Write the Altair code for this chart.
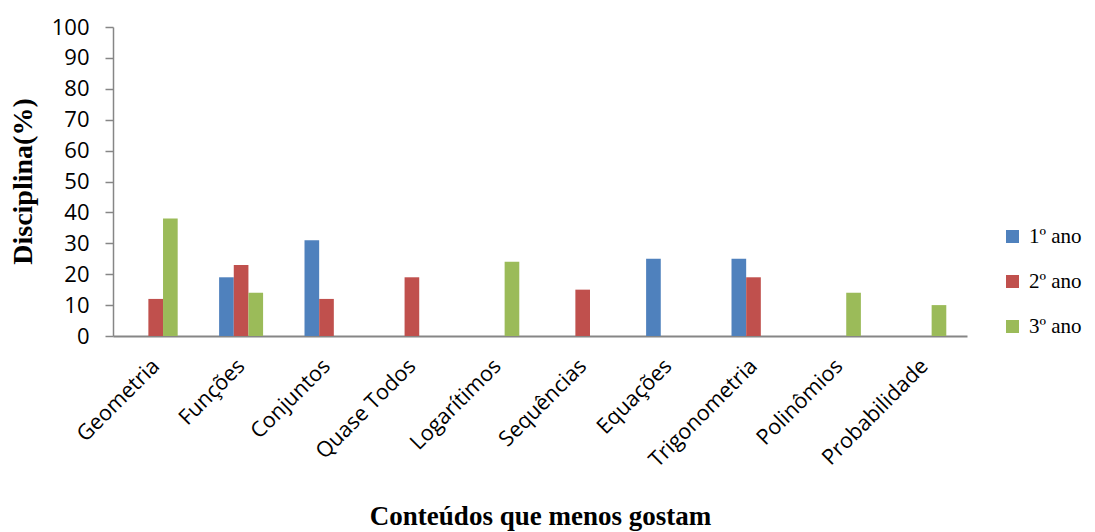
import altair as alt
import pandas as pd

categories = ["Geometria", "Funções", "Conjuntos", "Quase Todos", "Logarítimos",
              "Sequências", "Equações", "Trigonometria", "Polinômios", "Probabilidade"]
series = ["1º ano", "2º ano", "3º ano"]
ano1 = [0, 19, 31, 0, 0, 0, 25, 25, 0, 0]
ano2 = [12, 23, 12, 19, 0, 15, 0, 19, 0, 0]
ano3 = [38, 14, 0, 0, 24, 0, 0, 0, 14, 10]
colors = ["#4F81BD", "#C0504D", "#9BBB59"]

rows = []
for i, c in enumerate(categories):
    for s, vals in zip(series, [ano1, ano2, ano3]):
        rows.append({"cat": c, "serie": s, "valor": vals[i]})
df = pd.DataFrame(rows)

chart = alt.Chart(df).mark_bar().encode(
    x=alt.X("cat:N", sort=categories,
            scale=alt.Scale(paddingInner=0.485, paddingOuter=0.2425),
            axis=alt.Axis(title="Conteúdos que menos gostam", labelAngle=-45,
                          labelAlign="right", labelBaseline="top",
                          labelFont="Open Sans", labelFontSize=21.5, labelColor="black",
                          labelPadding=19, labelOffset=-7, ticks=False,
                          domainColor="#868686", domainWidth=2,
                          titleFont="Liberation Serif", titleFontSize=27, titleFontWeight="bold",
                          titleColor="black", titleX=427, titleY=180, titleBaseline="middle")),
    xOffset=alt.XOffset("serie:N", sort=series),
    y=alt.Y("valor:Q", scale=alt.Scale(domain=[0, 100]),
            axis=alt.Axis(title="Disciplina(%)", values=list(range(0, 101, 10)),
                          grid=False, tickColor="#868686", tickSize=8, domainColor="#868686",
                          domainWidth=1.5, tickWidth=1.5,
                          labelFont="Open Sans", labelFontSize=22, labelColor="black",
                          labelPadding=16,
                          titleFont="Liberation Serif", titleFontSize=28, titleFontWeight="bold",
                          titleColor="black", titleAngle=-90, titleX=-90, titleY=154,
                          titleAlign="center", titleBaseline="middle")),
    color=alt.Color("serie:N", sort=series,
                    scale=alt.Scale(domain=series, range=colors),
                    legend=alt.Legend(title=None, orient="none", legendX=889, legendY=199,
                                      symbolType="square", symbolSize=170, symbolStrokeWidth=0,
                                      labelFont="Liberation Serif", labelFontSize=21,
                                      labelColor="black", rowPadding=23, labelOffset=6)),
).properties(
    width=854, height=309,
    autosize=alt.AutoSizeParams(type="none"),
    padding={"left": 105, "top": 19, "right": 120, "bottom": 196},
).configure_view(stroke=None)

chart.save("out.html", embed_options={"renderer": "svg", "actions": False})
